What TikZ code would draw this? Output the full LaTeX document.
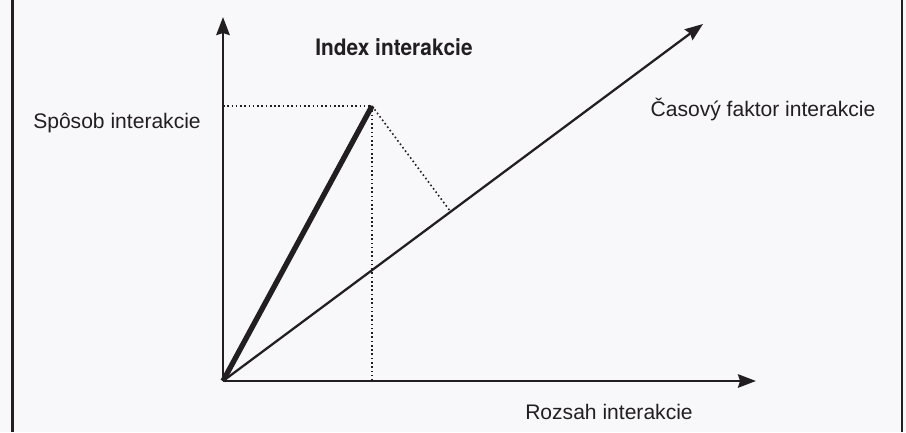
\documentclass[tikz,border=0pt]{standalone}
\usepackage{fontspec}
\setmainfont{Liberation Sans}
\newfontfamily\titlefont[FakeStretch=0.92]{TeX Gyre Heros}
\usetikzlibrary{arrows.meta,calc,positioning}
\definecolor{paper}{RGB}{248,248,250}
\definecolor{ink}{RGB}{35,31,32}

\begin{document}
\begin{tikzpicture}[
  x=0.75pt, y=-0.75pt,
  axis/.style={draw=ink, line width=2pt,
    -{Stealth[length=13.5pt, width=10pt, inset=1.5pt]}},
  guide/.style={draw=ink, line width=1.2pt, dotted},
  lab/.style={font=\fontsize{15.8}{19}\selectfont, text=ink, inner sep=0pt}
]
  \fill[paper] (0,0) rectangle (906,432);
  \useasboundingbox (0,0) rectangle (906,432);
  \draw[ink, line width=2.2pt] (12.5,0) -- (12.5,432);
  \draw[ink, line width=2.2pt] (902,0) -- (902,432);

  \coordinate (O) at (223,381);
  \coordinate (ytip) at (223,17);
  \coordinate (xtip) at (756,381);
  \coordinate (dtip) at (703,24);
  \coordinate (P) at (372,106);
  \coordinate (py) at (223,106);
  \coordinate (px) at (372,381);
  \coordinate (foot) at ($(O)!(P)!(dtip)$);

  % dotted projections of the index
  \draw[guide] (py) -- (P);
  \draw[guide] (P) -- (px);
  \draw[guide] (P) -- (foot);

  \draw[axis] (O) -- (ytip);
  \draw[axis] (O) -- (xtip);
  \draw[axis, line width=1.7pt] (O) -- (dtip);
  \draw[ink, line width=4pt] (O) -- (P);

  \node[font=\titlefont\bfseries\fontsize{17}{20}\selectfont, text=ink, inner sep=0pt]
    (index) at (394,47) {Index interakcie};
  \node[lab] (sposob) at (117,123) {Spôsob interakcie};
  \node[lab] (casovy) at (763,109) {Časový faktor interakcie};
  \node[lab] (rozsah) at (609,412) {Rozsah interakcie};
\end{tikzpicture}
\end{document}
